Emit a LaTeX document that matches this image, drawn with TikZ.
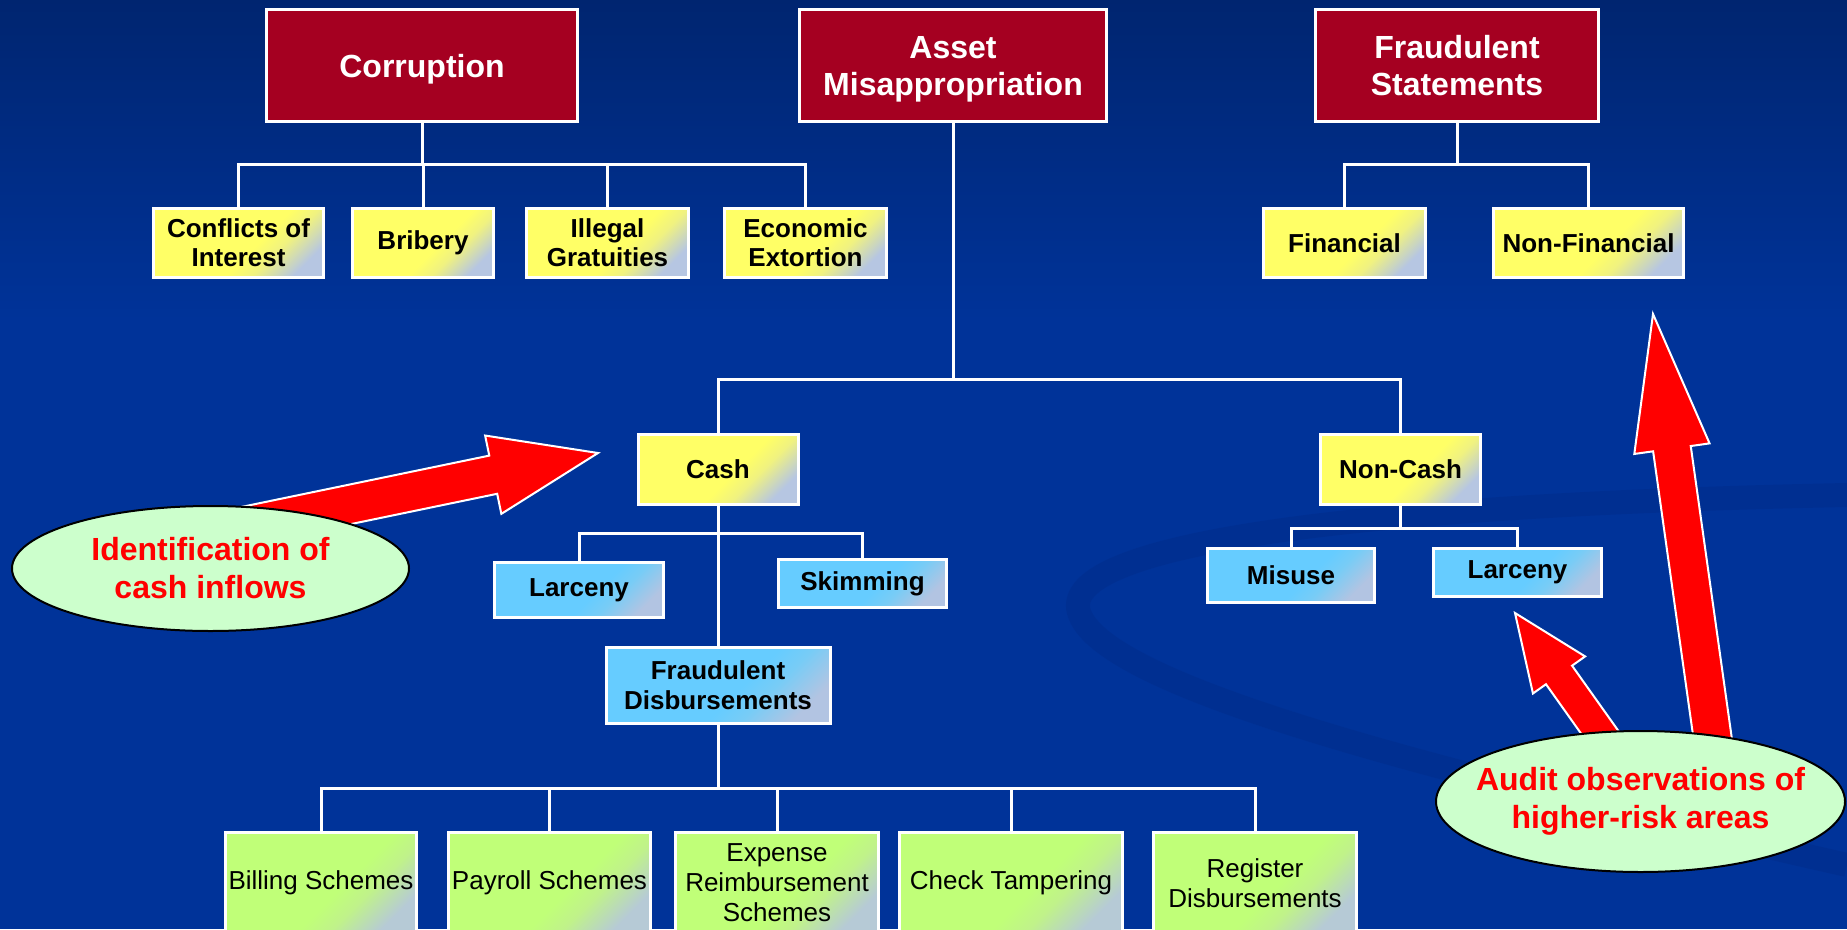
\documentclass[tikz,border=0pt]{standalone}
\usepackage{fontspec}
\setmainfont{Liberation Sans}
\usetikzlibrary{positioning,shapes.geometric}

% slide colours
\definecolor{slideblue}{RGB}{0,51,153}
\definecolor{slidetop}{RGB}{0,37,112}
\definecolor{swooshblue}{RGB}{0,38,125}
\definecolor{boxred}{RGB}{165,0,33}
\definecolor{yelA}{RGB}{255,255,102}
\definecolor{yelB}{RGB}{240,242,128}
\definecolor{yelC}{RGB}{182,198,226}
\definecolor{bluA}{RGB}{102,204,255}
\definecolor{bluB}{RGB}{120,204,246}
\definecolor{bluC}{RGB}{178,196,226}
\definecolor{grnA}{RGB}{192,255,120}
\definecolor{grnB}{RGB}{192,242,138}
\definecolor{grnC}{RGB}{182,202,214}
\definecolor{calloutgreen}{RGB}{204,255,204}
\definecolor{alertred}{RGB}{255,0,0}

\pgfdeclarehorizontalshading{yellowfade}{100bp}{color(0bp)=(yelA); color(56bp)=(yelA); color(64bp)=(yelB); color(76bp)=(yelC); color(100bp)=(yelC)}
\pgfdeclarehorizontalshading{bluefade}{100bp}{color(0bp)=(bluA); color(56bp)=(bluA); color(64bp)=(bluB); color(76bp)=(bluC); color(100bp)=(bluC)}
\pgfdeclarehorizontalshading{greenfade}{100bp}{color(0bp)=(grnA); color(56bp)=(grnA); color(64bp)=(grnB); color(76bp)=(grnC); color(100bp)=(grnC)}

\tikzset{
    %Define style for the three main boxes
    category/.style={
           rectangle,
           draw=white, line width=3pt,
           fill=boxred,
           text=white,
           font=\fontsize{32}{37}\selectfont\bfseries,
           align=center,
           text depth=-2pt,
           inner sep=0pt,
           minimum height=112pt},
    %Define style for the yellow boxes
    subtype/.style={
           rectangle,
           draw=white, line width=3pt,
           shade, shading=yellowfade, shading angle=-45,
           font=\fontsize{26}{29}\selectfont\bfseries,
           align=center,
           inner sep=0pt,
           minimum height=69pt},
    %Define style for the blue boxes
    scheme/.style={
           rectangle,
           draw=white, line width=3pt,
           shade, shading=bluefade, shading angle=-45,
           font=\fontsize{26}{30}\selectfont\bfseries,
           align=center,
           inner sep=0pt},
    %Define style for the green boxes
    method/.style={
           rectangle,
           draw=white, line width=3pt,
           shade, shading=greenfade, shading angle=-45,
           font=\fontsize{26}{30}\selectfont,
           align=center,
           inner sep=0pt,
           minimum height=101pt},
    %Define style for the callouts
    callout/.style={
           ellipse,
           draw=black, line width=2pt,
           fill=calloutgreen,
           text=alertred,
           font=\fontsize{32}{38}\selectfont\bfseries,
           align=center,
           inner xsep=-25pt, inner ysep=0pt},
    % Define connector style
    conn/.style={draw=white, line width=3pt},
    elbow/.style={to path={-| (\tikztotarget)}},
    % Define fat arrow
    arrowbody/.style={fill=alertred, draw=white, line width=2pt},
    pics/fatarrow/.style n args={4}{code={
        \filldraw[arrowbody] (0,0) -- (-#2,#3) -- (-#2,#4) -- (-#1,#4)
            -- (-#1,-#4) -- (-#2,-#4) -- (-#2,-#3) -- cycle;}}
}

\begin{document}
\begin{tikzpicture}[x=1pt,y=-1pt]
\useasboundingbox (0,0) rectangle (1847,929);
 %background
\fill[slideblue] (0,0) rectangle (1847,929);
\shade[top color=slidetop, bottom color=slideblue] (0,0) rectangle (1847,320);
\draw[swooshblue, line width=24pt, opacity=.25] (1847,495) .. controls (1350,505) and (1050,545) .. (1080,615) .. controls (1110,690) and (1450,775) .. (1847,865);

 %nodes
\node[category, minimum width=311pt](corr) at (422,65.5) {Corruption};
\node[category, minimum width=307pt](asset) at (953,65.5) {Asset\\Misappropriation};
\node[category, minimum width=283pt](fstat) at (1457,65.5) {Fraudulent\\Statements};

\node[subtype, minimum width=170pt](coi) at (238.5,243) {Conflicts of\\Interest};
\node[subtype, minimum width=141pt](brib) at (423,243) {Bribery};
\node[subtype, minimum width=162pt](illeg) at (607.5,243) {Illegal\\Gratuities};
\node[subtype, minimum width=162pt](econ) at (805.5,243) {Economic\\Extortion};
\node[subtype, minimum width=162pt](fin) at (1344.5,243) {Financial};
\node[subtype, minimum width=190pt](nonfin) at (1588.5,243) {Non-Financial};
\node[subtype, minimum width=160pt, minimum height=70pt](cash) at (718,469.5) {Cash};
\node[subtype, minimum width=160pt, minimum height=70pt](noncash) at (1400.5,469.5) {Non-Cash};

\node[scheme, minimum width=169pt, minimum height=55pt](clarc) at (579,590) {Larceny};
\node[scheme, minimum width=168pt, minimum height=48pt](skim) at (862.5,583.5) {Skimming};
\node[scheme, minimum width=224pt, minimum height=76pt](fdisb) at (718,685.5) {Fraudulent\\Disbursements};
\node[scheme, minimum width=167pt, minimum height=54pt](misuse) at (1291,575.5) {Misuse};
\node[scheme, minimum width=168pt, minimum height=48pt](nlarc) at (1517.5,572.5) {Larceny};

\node[method, minimum width=191pt](bill) at (321,883) {Billing Schemes};
\node[method, minimum width=202pt](pay) at (549.5,883) {Payroll Schemes};
\node[method, minimum width=203pt](exp) at (777,883) {Expense\\Reimbursement\\Schemes};
\node[method, minimum width=223pt](chk) at (1011,883) {Check Tampering};
\node[method, minimum width=203pt](reg) at (1255,883) {Register\\Disbursements};

 %connectors
\coordinate (corrbar) at (422,164);
\coordinate (fstatbar) at (1457,164);
\coordinate (assetbar) at (953,379);
\coordinate (cashbar) at (718,533);
\coordinate (noncashbar) at (1400.5,528);
\coordinate (fdisbbar) at (718,788);
\path[conn]
    (corr) edge (corrbar)
    (corrbar) edge[elbow] (coi)
    (corrbar) edge[elbow] (brib)
    (corrbar) edge[elbow] (illeg)
    (corrbar) edge[elbow] (econ)
    (fstat) edge (fstatbar)
    (fstatbar) edge[elbow] (fin)
    (fstatbar) edge[elbow] (nonfin)
    (asset) edge (assetbar)
    (assetbar) edge[elbow] (cash)
    (assetbar) edge[elbow] (noncash)
    (cash) edge (fdisb)
    (cashbar) edge[elbow] (clarc)
    (cashbar) edge[elbow] (skim)
    (noncash) edge (noncashbar)
    (noncashbar) edge[elbow] (misuse)
    (noncashbar) edge[elbow] (nlarc)
    (fdisb) edge (fdisbbar);
\foreach \m in {bill,pay,exp,chk,reg}
    \path[conn] (fdisbbar) edge[elbow] (\m);

 %callout arrows
\coordinate (cashtip) at (598,453);
\coordinate (larctip) at (1515,613);
\coordinate (nonfintip) at (1653,314);
\pic[rotate=11.7] at (cashtip) {fatarrow={367}{107}{40}{19.5}};
\pic[rotate=125.4] at (larctip) {fatarrow={170}{76}{32}{16}};
\pic[rotate=98] at (nonfintip) {fatarrow={460}{136}{38}{19}};

 %callouts
\node[callout, minimum width=397pt, minimum height=125pt](ident) at (210.5,568.5) {Identification of\\cash inflows};
\node[callout, minimum width=409pt, minimum height=141pt](audit) at (1640.5,801.5) {Audit observations of\\higher-risk areas};
\end{tikzpicture}
\end{document}
